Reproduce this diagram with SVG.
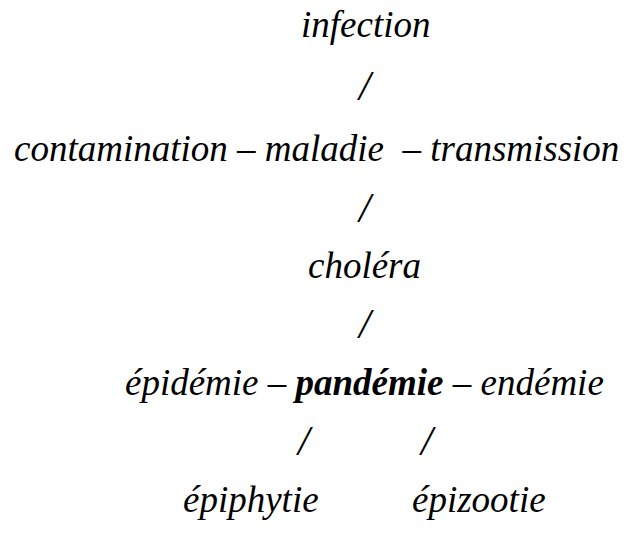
<svg xmlns="http://www.w3.org/2000/svg" width="629" height="558" viewBox="0 0 629 558">
<style>
text { font-family: "Liberation Serif", "Times New Roman", serif; font-size: 37px; font-style: italic; fill: #000; }
.s { font-size: 42px; }
.b { font-weight: bold; }
</style>
<rect width="629" height="558" fill="#fff"/>
<g id="connectors">
<text class="s" x="359" y="100">/</text>
<text class="s" x="359" y="222">/</text>
<text class="s" x="359" y="338">/</text>
<text class="s" x="298" y="455">/</text>
<text class="s" x="421" y="455">/</text>
</g>
<g id="infection"><text x="301" y="37">infection</text></g>
<g id="row2"><text x="14" y="161">contamination – maladie&#160; – transmission</text></g>
<g id="cholera"><text x="308" y="278">choléra</text></g>
<g id="row4"><text x="125" y="395">épidémie – <tspan class="b">pandémie</tspan> – endémie</text></g>
<g id="epiphytie"><text x="183" y="512">épiphytie</text></g>
<g id="epizootie"><text x="412" y="512">épizootie</text></g>
</svg>
